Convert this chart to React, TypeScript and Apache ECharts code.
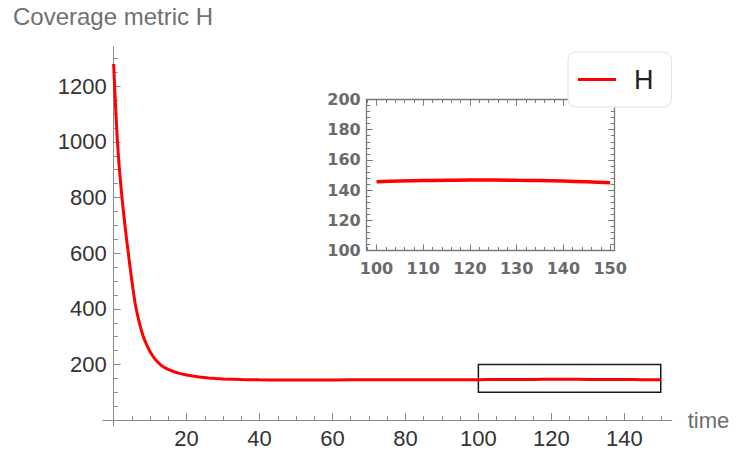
import { useEffect, useRef } from "react";
import * as echarts from "echarts";

// Time samples and H values
const times = [
  0, 0.25, 0.5, 0.75, 1, 1.5, 2, 2.5, 3, 3.5, 4, 4.5, 5, 5.5, 6, 7, 8, 9, 10, 11, 12, 13, 14, 16, 18, 20, 22, 24, 26, 28, 30,
  35, 40, 45, 50, 60, 70, 80, 90, 100, 105, 110, 115, 120, 125, 130, 135, 140, 145, 150,
];
const values = [
  1280, 1205, 1135, 1070, 1010, 915, 840, 772, 712, 655, 603, 550, 500, 454, 412, 352, 305, 272, 246, 226, 210, 198, 189, 177, 168, 162, 157.5, 154, 151.5, 149.5, 148,
  146, 145, 144.5, 144.5, 144.6, 145, 145.3, 145.5, 145.6, 146, 146.3, 146.5, 146.7, 146.7, 146.5, 146.3, 146, 145.5, 144.9,
];

// Tick labels
const mainXMajor = [20, 40, 60, 80, 100, 120, 140];
const mainYMajor = [200, 400, 600, 800, 1000, 1200];
const insetXMajor = [100, 110, 120, 130, 140, 150];
const insetYMajor = [100, 120, 140, 160, 180, 200];

// Minor tick positions
const mainXMinor = [5, 10, 15, 25, 30, 35, 45, 50, 55, 65, 70, 75, 85, 90, 95, 105, 110, 115, 125, 130, 135, 145, 150];
const mainYMinor = [50, 100, 150, 250, 300, 350, 450, 500, 550, 650, 700, 750, 850, 900, 950, 1050, 1100, 1150, 1250, 1300];
const insetXMinor = [98, 102, 104, 106, 108, 112, 114, 116, 118, 122, 124, 126, 128, 132, 134, 136, 138, 142, 144, 146, 148];
const insetYMinor = [104, 108, 112, 116, 124, 128, 132, 136, 144, 148, 152, 156, 164, 168, 172, 176, 184, 188, 192, 196];

const boxX = [100, 150];
const boxY = [100, 200];

const AXIS = "#8a8a8a";
const RED = "#ff0000";
const SANS = "'Liberation Sans', Arial, sans-serif";
const INSET_FONT = "'DejaVu Sans', sans-serif";

const plain = (v: number) => String(v);

export default function App() {
  const ref = useRef<HTMLDivElement | null>(null);

  useEffect(() => {
    if (!ref.current) return;
    const chart = echarts.init(ref.current, undefined, { renderer: "svg" });

    const pts = times.map((t, i) => [t, values[i]]);
    const insetPts = pts.filter((p) => p[0] >= 100);

    const mainX = (extra: any) => ({
      type: "value",
      gridIndex: 0,
      min: -3,
      max: 153,
      position: "bottom",
      splitLine: { show: false },
      ...extra,
    });
    const mainY = (extra: any) => ({
      type: "value",
      gridIndex: 0,
      min: -21,
      max: 1342,
      position: "left",
      splitLine: { show: false },
      ...extra,
    });
    const insetX = (extra: any) => ({
      type: "value",
      gridIndex: 1,
      min: 97.9,
      max: 150.9,
      splitLine: { show: false },
      ...extra,
    });
    const insetY = (extra: any) => ({
      type: "value",
      gridIndex: 1,
      min: 100,
      max: 200,
      splitLine: { show: false },
      ...extra,
    });

    const insetLabel = {
      fontFamily: INSET_FONT,
      fontWeight: "bold",
      fontSize: 16,
      color: "#6a6a6a",
      formatter: plain,
    };

    chart.setOption({
      animation: false,
      backgroundColor: "#ffffff",
      title: {
        text: "Coverage metric H",
        left: 13,
        top: 4,
        padding: 0,
        textStyle: { fontSize: 24, fontWeight: "normal", color: "#707070", fontFamily: SANS },
      },
      legend: {
        data: ["H"],
        left: 568,
        top: 52,
        icon: "rect",
        itemWidth: 38,
        itemHeight: 3,
        padding: [14, 18, 14, 10],
        backgroundColor: "#ffffff",
        borderColor: "#e2e2e2",
        borderWidth: 1,
        borderRadius: 8,
        selectedMode: false,
        textStyle: { fontSize: 27, color: "#222", fontFamily: SANS, padding: [0, 0, 0, 13] },
      },
      grid: [
        { left: 102.7, right: 64.3, top: 46.7, bottom: 30 },
        { left: 366.7, right: 121.7, top: 99.5, bottom: 205.5 },
      ],
      xAxis: [
        mainX({
          axisLine: { show: true, onZero: true, onZeroAxisIndex: 0, lineStyle: { color: AXIS, width: 1 } },
          axisTick: { show: true, inside: true, length: 7, customValues: mainXMajor, lineStyle: { color: AXIS } },
          axisLabel: { customValues: mainXMajor, margin: 1, fontSize: 22, color: "#333", fontFamily: SANS, formatter: plain },
          name: "time",
          nameLocation: "end",
          nameGap: 16,
          nameTextStyle: { fontSize: 22, color: "#6e6e6e", fontFamily: SANS, verticalAlign: "middle", align: "left" },
        }),
        mainX({
          axisLine: { show: false, onZero: true, onZeroAxisIndex: 1 },
          axisTick: { show: true, inside: true, length: 4, customValues: mainXMinor, lineStyle: { color: AXIS } },
          axisLabel: { show: false },
        }),
        insetX({
          position: "bottom",
          axisLine: { show: true, onZero: false, lineStyle: { color: "#777", width: 1.3 } },
          axisTick: { show: true, inside: true, length: 6, customValues: insetXMajor, lineStyle: { color: "#777" } },
          axisLabel: { customValues: insetXMajor, margin: 10, ...insetLabel },
        }),
        insetX({
          position: "bottom",
          axisLine: { show: false, onZero: false },
          axisTick: { show: true, inside: true, length: 3.5, customValues: insetXMinor, lineStyle: { color: "#777" } },
          axisLabel: { show: false },
        }),
        insetX({
          position: "top",
          axisLine: { show: true, onZero: false, lineStyle: { color: "#777", width: 1.3 } },
          axisTick: { show: true, inside: true, length: 6, customValues: insetXMajor, lineStyle: { color: "#777" } },
          axisLabel: { show: false },
        }),
        insetX({
          position: "top",
          axisLine: { show: false, onZero: false },
          axisTick: { show: true, inside: true, length: 3.5, customValues: insetXMinor, lineStyle: { color: "#777" } },
          axisLabel: { show: false },
        }),
      ],
      yAxis: [
        mainY({
          axisLine: { show: true, onZero: true, onZeroAxisIndex: 0, lineStyle: { color: AXIS, width: 1 } },
          axisTick: { show: true, inside: true, length: 7, customValues: mainYMajor, lineStyle: { color: AXIS } },
          axisLabel: { customValues: mainYMajor, margin: -4, fontSize: 22, color: "#333", fontFamily: SANS, formatter: plain },
        }),
        mainY({
          axisLine: { show: false, onZero: true, onZeroAxisIndex: 1 },
          axisTick: { show: true, inside: true, length: 4, customValues: mainYMinor, lineStyle: { color: AXIS } },
          axisLabel: { show: false },
        }),
        insetY({
          position: "left",
          axisLine: { show: true, onZero: false, lineStyle: { color: "#777", width: 1.3 } },
          axisTick: { show: true, inside: true, length: 6, customValues: insetYMajor, lineStyle: { color: "#777" } },
          axisLabel: { customValues: insetYMajor, margin: 6, ...insetLabel },
        }),
        insetY({
          position: "left",
          axisLine: { show: false, onZero: false },
          axisTick: { show: true, inside: true, length: 3.5, customValues: insetYMinor, lineStyle: { color: "#777" } },
          axisLabel: { show: false },
        }),
        insetY({
          position: "right",
          axisLine: { show: true, onZero: false, lineStyle: { color: "#777", width: 1.3 } },
          axisTick: { show: true, inside: true, length: 6, customValues: insetYMajor, lineStyle: { color: "#777" } },
          axisLabel: { show: false },
        }),
        insetY({
          position: "right",
          axisLine: { show: false, onZero: false },
          axisTick: { show: true, inside: true, length: 3.5, customValues: insetYMinor, lineStyle: { color: "#777" } },
          axisLabel: { show: false },
        }),
      ],
      series: [
        {
          name: "H",
          type: "line",
          xAxisIndex: 0,
          yAxisIndex: 0,
          data: pts,
          showSymbol: false,
          smooth: 0.25,
          lineStyle: { color: RED, width: 3 },
          itemStyle: { color: RED },
          z: 3,
          markArea: {
            silent: true,
            label: { show: false },
            itemStyle: { color: "rgba(0,0,0,0)", borderColor: "#1a1a1a", borderWidth: 1.5 },
            data: [[{ coord: [boxX[0], boxY[1]] }, { coord: [boxX[1], boxY[0]] }]],
          },
        },
        {
          name: "H",
          type: "line",
          xAxisIndex: 2,
          yAxisIndex: 2,
          data: insetPts,
          showSymbol: false,
          smooth: 0.25,
          lineStyle: { color: RED, width: 3.5 },
          itemStyle: { color: RED },
        },
      ],
    });

    return () => chart.dispose();
  }, []);

  return (
    <div
      ref={ref}
      style={{ position: "fixed", left: 0, top: 0, width: 736, height: 456, background: "#fff" }}
    />
  );
}
